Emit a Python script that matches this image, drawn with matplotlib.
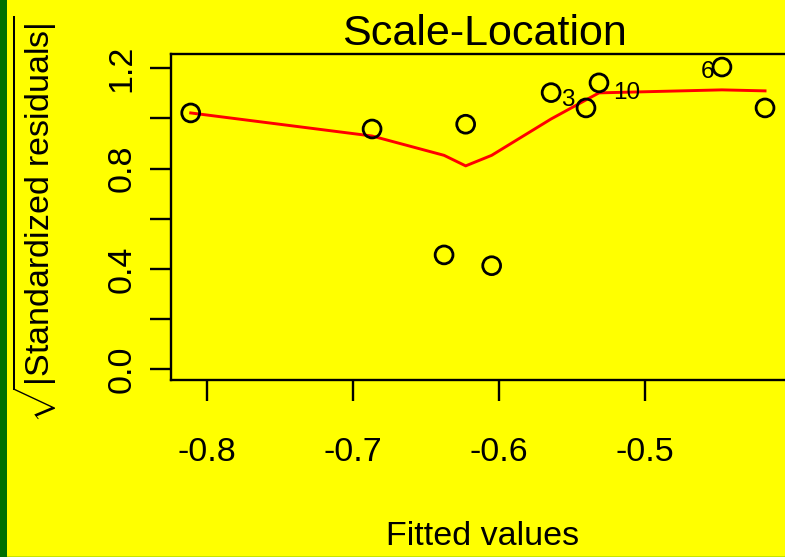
import matplotlib
matplotlib.use("Agg")
import matplotlib.pyplot as plt
from matplotlib.patches import Rectangle

plt.rcParams['font.family'] = ['Liberation Sans', 'DejaVu Sans']
plt.rcParams['mathtext.fontset'] = 'custom'
plt.rcParams['mathtext.rm'] = 'Liberation Sans'
plt.rcParams['mathtext.it'] = 'Liberation Sans:italic'
plt.rcParams['mathtext.bf'] = 'Liberation Sans:bold'

# fitted values and sqrt(|standardized residuals|)
fitted = [-0.8109, -0.6867, -0.6374, -0.6226, -0.6048,
          -0.5641, -0.5402, -0.5313, -0.4471, -0.4176]
sqrt_res = [1.022, 0.958, 0.456, 0.977, 0.413,
            1.103, 1.042, 1.142, 1.205, 1.042]
# smoother (red line) at the same fitted values
smooth = [1.022, 0.930, 0.853, 0.811, 0.853,
          0.998, 1.074, 1.102, 1.114, 1.110]
# labelled points: index, text, offset in px (right, down)
labelled = [(5, "3", (17, 7)), (7, "10", (28, 10)), (8, "6", (-14, 5))]

xticks = [-0.8, -0.7, -0.6, -0.5]
yticks = [0.0, 0.2, 0.4, 0.6, 0.8, 1.0, 1.2]
ytick_labels = ["0.0", "", "0.4", "", "0.8", "", "1.2"]

W, H = 785, 557
fig = plt.figure(figsize=(W / 100, H / 100), dpi=100, facecolor="#ffff00")
ax = fig.add_axes([171 / W, 177 / H, 626 / W, 326 / H])
ax.set_facecolor("#ffff00")

ax.plot(fitted, smooth, color="red", lw=2.1, zorder=2)
ax.scatter(fitted, sqrt_res, s=165, facecolors="none", edgecolors="black",
           linewidths=2.0, zorder=3)
for i, txt, (dx, dy) in labelled:
    ax.annotate(txt, (fitted[i], sqrt_res[i]), xytext=(dx * 0.72, -dy * 0.72),
                textcoords="offset points", ha="center", va="center",
                fontsize=17.5, color="black")

ax.set_xlim(-0.8244, -0.3957)
ax.set_ylim(-0.0427, 1.257)
ax.set_xticks(xticks)
ax.set_xticklabels(["-0.8", "-0.7", "-0.6", "-0.5"])
ax.set_yticks(yticks)
ax.set_yticklabels(ytick_labels)
ax.tick_params(axis="both", length=15, width=1.7, labelsize=24.5, color="black")
ax.tick_params(axis="x", pad=26)
ax.tick_params(axis="y", pad=9)
for lab in ax.get_yticklabels():
    lab.set_rotation(90)
    lab.set_va("center")

for sp in ax.spines.values():
    sp.set_linewidth(1.7)

ax.set_title("Scale-Location", fontsize=31, pad=-1)
fig.text(483 / W, 1 - 545 / H, "Fitted values", ha="center", va="baseline",
         fontsize=24.5)
fig.text(35 / W, 1 - 219 / H, r"$\sqrt{|\mathrm{Standardized\ residuals}|}$",
         rotation=90, ha="center", va="center", fontsize=24.5)

# green strip on the left edge and thin line along the bottom
fig.patches.append(Rectangle((0, 0), 7 / W, 1, transform=fig.transFigure,
                             facecolor="#007000", edgecolor="none"))
fig.patches.append(Rectangle((7 / W, 0), 1, 1.2 / H, transform=fig.transFigure,
                             facecolor="#c8e400", edgecolor="none"))

fig.savefig("out.png", dpi=100, facecolor=fig.get_facecolor())
